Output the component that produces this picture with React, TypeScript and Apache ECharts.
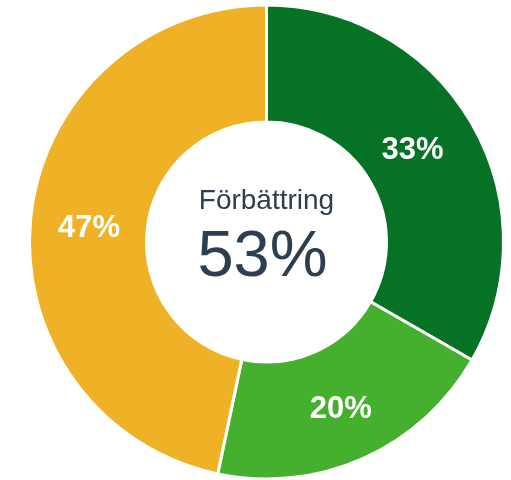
import React, { useEffect, useRef } from "react";
import * as echarts from "echarts";

const categories = ["Stor förbättring", "Viss förbättring", "Ingen förbättring"];
const values = [33.3, 20, 46.7];
const colors = ["#067226", "#45b02e", "#efb226"];
const centerLabel = "Förbättring";
const centerValue = "53%";

const FONT = "Liberation Sans, Arial, Helvetica, sans-serif";

export default function App() {
  const ref = useRef<HTMLDivElement>(null);
  useEffect(() => {
    if (!ref.current) return;
    const chart = echarts.init(ref.current, null, { renderer: "svg" });
    chart.setOption({
      animation: false,
      graphic: [
        {
          type: "text",
          style: {
            text: centerLabel,
            x: 266.5,
            y: 213,
            textAlign: "center",
            textVerticalAlign: "bottom",
            fontSize: 28,
            fontFamily: FONT,
            fill: "#2c3e50",
          },
        },
        {
          type: "text",
          style: {
            text: centerValue,
            x: 262.5,
            y: 286,
            textAlign: "center",
            textVerticalAlign: "bottom",
            fontSize: 65,
            fontFamily: FONT,
            fill: "#2c3e50",
          },
        },
      ],
      series: [
        {
          type: "pie",
          center: [266.5, 242],
          radius: [120, 237],
          startAngle: 90,
          clockwise: true,
          itemStyle: { borderColor: "#fff", borderWidth: 3 },
          label: {
            show: true,
            position: "inside",
            formatter: (p: any) => Math.round(p.percent) + "%",
            color: "#fff",
            fontWeight: "bold",
            fontSize: 31,
            fontFamily: FONT,
          },
          labelLayout: (p: any) =>
            p.dataIndex === 0
              ? { dx: -11, dy: -3 }
              : p.dataIndex === 2
              ? { dx: 3, dy: 3 }
              : {},
          labelLine: { show: false },
          emphasis: { disabled: true },
          data: categories.map((c, i) => ({
            name: c,
            value: values[i],
            itemStyle: { color: colors[i] },
          })),
        },
      ],
    });
    return () => chart.dispose();
  }, []);
  return (
    <div
      ref={ref}
      style={{ position: "fixed", left: 0, top: 0, width: 511, height: 480 }}
    />
  );
}
